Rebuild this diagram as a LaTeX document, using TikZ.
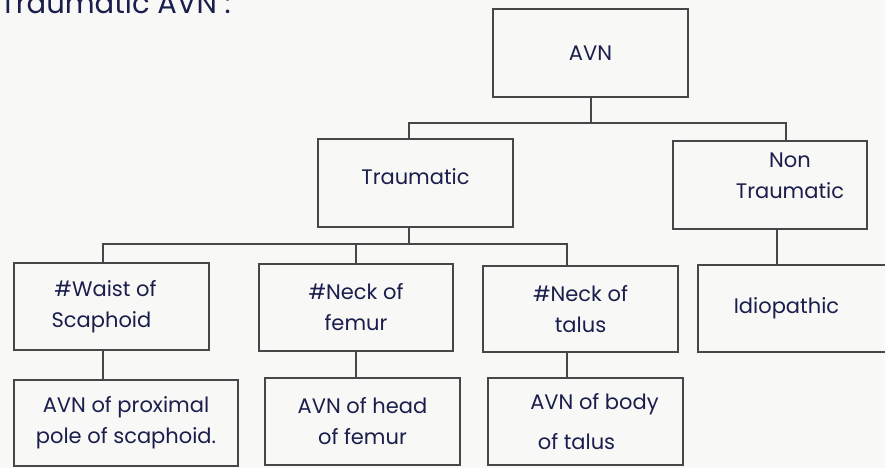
\documentclass[tikz,border=0pt]{standalone}
\usepackage{fontspec}
\setmainfont{Poppins}
\definecolor{paper}{HTML}{F8F8F6}
\definecolor{ink}{HTML}{1A1E4C}
\definecolor{pencil}{HTML}{474747}
\tikzset{
 box/.style={draw=pencil,line width=2pt,minimum width=195pt,minimum height=87pt,
  align=center,text=ink,inner sep=2pt,font=\fontsize{21}{31}\selectfont},
 wire/.style={draw=pencil,line width=2pt}
}
\begin{document}
\begin{tikzpicture}[x=1pt,y=-1pt]
 \fill[paper] (0,0) rectangle (885,468);
 \clip (0,0) rectangle (885,468);
 \node[anchor=base west,inner sep=0pt,text=ink,font=\fontsize{29}{35}\selectfont] (title) at (0,14) {Traumatic AVN :};
 \node[box,minimum height=88pt] (avn) at (590.5,53) {AVN};
 \node[box,minimum height=88pt] (trauma) at (415.5,183) {Traumatic\\[-19pt]};
 \node[box,minimum width=194pt,minimum height=88pt] (nontrauma) at (770,185) {\hspace*{40pt}Non\\\hspace*{40pt}Traumatic\\[-13pt]};
 \node[box] (waist) at (111.5,306.5) {\#Waist of\hspace*{12pt}\\Scaphoid\hspace*{20pt}};
 \node[box,minimum width=194pt] (femneck) at (356,307.5) {\#Neck of\\femur};
 \node[box,minimum height=86pt] (talneck) at (580.5,309) {\#Neck of\\talus};
 \node[box] (idio) at (795.5,308.5) {Idiopathic\hspace*{18pt}};
 \node[box,minimum width=224pt,minimum height=86pt] (proxpole) at (126,423) {AVN of proximal\\pole of scaphoid.};
 \node[box] (headfem) at (362.5,421.5) {AVN of head\\of femur};
 \node[box] (bodytal) at (585.5,421.5) {\hspace*{18pt}AVN of body\\[9pt]of talus\hspace*{18pt}};
 \coordinate (topbus) at (590.5,123);
 \coordinate (lowbus) at (409,244);
 \draw[wire] (avn.south) -- (topbus);
 \draw[wire] ([xshift=-6.5pt]trauma.north) |- (topbus) -| ([xshift=16pt]nontrauma.north);
 \draw[wire] ([xshift=-6.5pt]trauma.south) -- (lowbus);
 \draw[wire] ([xshift=-8.5pt]waist.north) |- (lowbus) -| ([xshift=-13.5pt]talneck.north);
 \draw[wire] (femneck.north) -- (femneck.north |- lowbus);
 \draw[wire] ([xshift=7pt]nontrauma.south) -- ([xshift=7pt]nontrauma.south |- idio.north);
 \draw[wire] ([xshift=-8.5pt]waist.south) -- ([xshift=-8.5pt]waist.south |- proxpole.north);
 \draw[wire] (femneck.south) -- (femneck.south |- headfem.north);
 \draw[wire] ([xshift=-13.5pt]talneck.south) -- ([xshift=-13.5pt]talneck.south |- bodytal.north);
\end{tikzpicture}
\end{document}
